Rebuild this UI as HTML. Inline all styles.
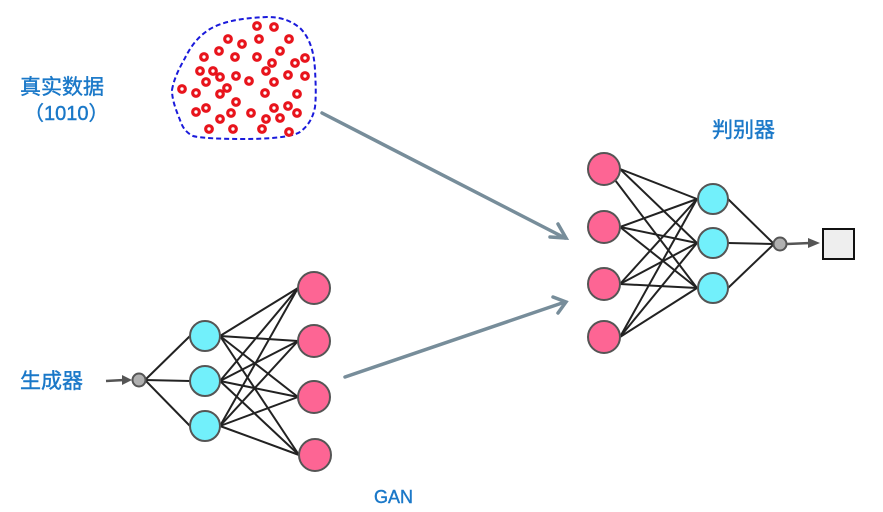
<!DOCTYPE html>
<html><head><meta charset="utf-8"><style>
html,body{margin:0;padding:0;background:#fff;}
svg{display:block;}
text{font-family:"Liberation Sans","Noto Sans CJK SC",sans-serif;fill:#1a78c8;stroke:#1a78c8;stroke-width:0.4;}
</style></head><body>
<svg width="883" height="512" viewBox="0 0 883 512" xmlns="http://www.w3.org/2000/svg">
<path d="M172,90 C174,78 180,67 185,58 C190,48 197,37 210,29 C222,22 240,18 267,17 C280,17 290,20 300,28 C310,38 314,52 315,70 C316,88 316,98 315,107 C313,118 308,126 300,132 C292,137 270,139 243,139 C220,139 200,138 193,136 C185,132 182,126 180,120 C176,110 172,100 172,90 Z" fill="none" stroke="#1a1adb" stroke-width="2" stroke-dasharray="5,3"/>
<g fill="#fff" stroke="#e8141c" stroke-width="3.2">
<circle cx="257" cy="26" r="3.3"/><circle cx="274" cy="27" r="3.3"/><circle cx="228" cy="39" r="3.3"/><circle cx="259" cy="39" r="3.3"/><circle cx="289" cy="39" r="3.3"/><circle cx="242" cy="44" r="3.3"/><circle cx="219" cy="51" r="3.3"/><circle cx="280" cy="51" r="3.3"/><circle cx="204" cy="57" r="3.3"/><circle cx="235" cy="57" r="3.3"/><circle cx="257" cy="57" r="3.3"/><circle cx="305" cy="58" r="3.3"/><circle cx="272" cy="63" r="3.3"/><circle cx="295" cy="63" r="3.3"/><circle cx="200" cy="71" r="3.3"/><circle cx="213" cy="71" r="3.3"/><circle cx="266" cy="71" r="3.3"/><circle cx="220" cy="77" r="3.3"/><circle cx="236" cy="76" r="3.3"/><circle cx="288" cy="75" r="3.3"/><circle cx="305" cy="76" r="3.3"/><circle cx="206" cy="82" r="3.3"/><circle cx="249" cy="81" r="3.3"/><circle cx="274" cy="82" r="3.3"/><circle cx="227" cy="88" r="3.3"/><circle cx="182" cy="89" r="3.3"/><circle cx="196" cy="93" r="3.3"/><circle cx="220" cy="94" r="3.3"/><circle cx="265" cy="93" r="3.3"/><circle cx="297" cy="94" r="3.3"/><circle cx="236" cy="102" r="3.3"/><circle cx="288" cy="106" r="3.3"/><circle cx="196" cy="112" r="3.3"/><circle cx="206" cy="108" r="3.3"/><circle cx="231" cy="113" r="3.3"/><circle cx="251" cy="113" r="3.3"/><circle cx="274" cy="108" r="3.3"/><circle cx="297" cy="113" r="3.3"/><circle cx="220" cy="119" r="3.3"/><circle cx="266" cy="119" r="3.3"/><circle cx="280" cy="118" r="3.3"/><circle cx="209" cy="129" r="3.3"/><circle cx="233" cy="129" r="3.3"/><circle cx="262" cy="129" r="3.3"/><circle cx="289" cy="132" r="3.3"/>
</g>
<g stroke="#778d9a" stroke-width="3.5" fill="none" stroke-linecap="round">
<line x1="322" y1="113" x2="565" y2="238"/><polyline points="550,237 566,238 558,224"/>
<line x1="345" y1="377" x2="565" y2="302"/><polyline points="553,297 566,302 558,313"/>
</g>
<g stroke="#222" stroke-width="2">
<line x1="145" y1="380" x2="190" y2="336"/><line x1="145" y1="380" x2="190" y2="381"/><line x1="145" y1="380" x2="190" y2="426"/>
<line x1="220" y1="336" x2="298" y2="288"/><line x1="220" y1="336" x2="298" y2="341"/><line x1="220" y1="336" x2="298" y2="397"/><line x1="220" y1="336" x2="299" y2="455"/>
<line x1="220" y1="381" x2="298" y2="288"/><line x1="220" y1="381" x2="298" y2="341"/><line x1="220" y1="381" x2="298" y2="397"/><line x1="220" y1="381" x2="299" y2="455"/>
<line x1="220" y1="426" x2="298" y2="288"/><line x1="220" y1="426" x2="298" y2="341"/><line x1="220" y1="426" x2="298" y2="397"/><line x1="220" y1="426" x2="299" y2="455"/>
<line x1="620" y1="169" x2="697" y2="199"/><line x1="620" y1="169" x2="697" y2="243"/><line x1="615" y1="180" x2="697" y2="288"/>
<line x1="620" y1="227" x2="697" y2="199"/><line x1="620" y1="227" x2="697" y2="243"/><line x1="620" y1="227" x2="697" y2="288"/>
<line x1="620" y1="284" x2="697" y2="199"/><line x1="620" y1="284" x2="697" y2="243"/><line x1="620" y1="284" x2="697" y2="288"/>
<line x1="620" y1="337" x2="697" y2="199"/><line x1="620" y1="337" x2="697" y2="243"/><line x1="620" y1="337" x2="697" y2="288"/>
<line x1="728" y1="199" x2="774" y2="244"/><line x1="728" y1="243" x2="774" y2="244"/><line x1="728" y1="288" x2="774" y2="244"/>
</g>
<g stroke="#555" stroke-width="2">
<circle cx="205" cy="336" r="15" fill="#72f0fb"/><circle cx="205" cy="381" r="15" fill="#72f0fb"/><circle cx="205" cy="426" r="15" fill="#72f0fb"/>
<circle cx="314" cy="288" r="16" fill="#fd6594"/><circle cx="314" cy="341" r="16" fill="#fd6594"/><circle cx="314" cy="397" r="16" fill="#fd6594"/><circle cx="315" cy="455" r="16" fill="#fd6594"/>
<circle cx="604" cy="169" r="16" fill="#fd6594"/><circle cx="604" cy="227" r="16" fill="#fd6594"/><circle cx="604" cy="284" r="16" fill="#fd6594"/><circle cx="604" cy="337" r="16" fill="#fd6594"/>
<circle cx="713" cy="199" r="15" fill="#72f0fb"/><circle cx="713" cy="243" r="15" fill="#72f0fb"/><circle cx="713" cy="288" r="15" fill="#72f0fb"/>
<circle cx="139" cy="380" r="6.5" fill="#b0b0b0"/><circle cx="780" cy="244" r="6.5" fill="#b0b0b0"/>
</g>
<g stroke="#555" stroke-width="2.5"><line x1="106" y1="381" x2="124" y2="380"/><line x1="787" y1="244" x2="810" y2="243"/></g>
<polygon points="122,375 132,380 122,385" fill="#555"/>
<polygon points="808,238 820,243 808,248" fill="#555"/>
<rect x="823" y="229" width="31" height="30" fill="#eeeeee" stroke="#111" stroke-width="2"/>
<text x="20" y="94" font-size="21">真实数据</text>
<text x="24" y="120" font-size="20">（1010）</text>
<text x="20" y="388" font-size="21">生成器</text>
<text x="712" y="137" font-size="21">判别器</text>
<text x="374" y="503" font-size="18">GAN</text>
</svg>
</body></html>
